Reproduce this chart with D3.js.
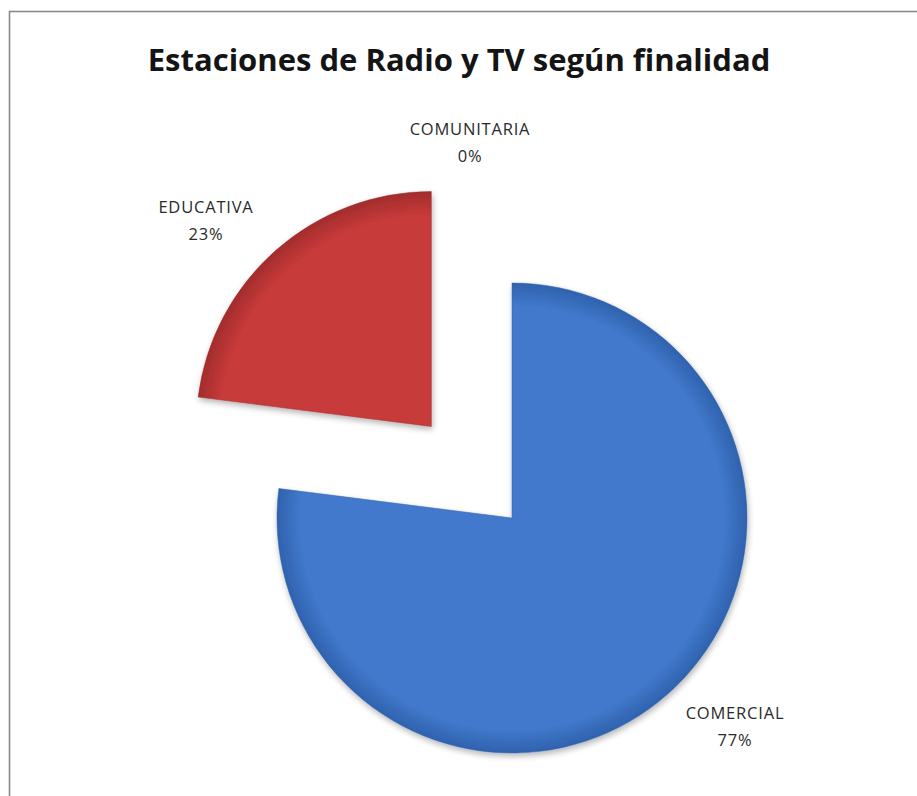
<!DOCTYPE html>
<html>
<head>
<meta charset="utf-8">
<script src="https://cdn.jsdelivr.net/npm/d3@7"></script>
<style>
  html, body { margin: 0; padding: 0; background: #fff; }
  svg { display: block; }
</style>
</head>
<body>
<svg id="chart" width="917" height="796"></svg>
<script>
// ---- data ----
const categories = ["COMERCIAL", "EDUCATIVA", "COMUNITARIA"];
const values = [77, 23, 0];
const percentLabels = ["77%", "23%", "0%"];
const title = "Estaciones de Radio y TV según finalidad";

// ---- style / layout ----
const W = 917, H = 796;
const cx = 512, cy = 518, R = 235;
const explode = [0, 122, 0];
const fills = [["#5a90dc", "#4279cc", "#2f62ae"], ["#d8484a", "#c83a3a", "#a22c2c"], ["#9bbb59", "#7f9f45", "#6a8838"]];
const labelPlace = [
  { x: 735, y: 719 },
  { x: 206, y: 213 },
  { x: 470, y: 135 }
];

const svg = d3.select("#chart");
const defs = svg.append("defs");

// border
svg.append("rect")
  .attr("x", 9.5).attr("y", 11.5)
  .attr("width", W + 20).attr("height", H + 20)
  .attr("fill", "#fff")
  .attr("stroke", "#8a8a8a").attr("stroke-width", 1.6);

// title
svg.append("text")
  .attr("x", 459).attr("y", 71)
  .attr("text-anchor", "middle")
  .attr("font-family", "'Open Sans', 'DejaVu Sans', sans-serif")
  .attr("font-weight", "bold")
  .attr("font-size", 31)
  .attr("fill", "#141414")
  .text(title);

// shadow filter
const f = defs.append("filter").attr("id", "shadow")
  .attr("x", "-10%").attr("y", "-10%").attr("width", "130%").attr("height", "130%");
f.append("feGaussianBlur").attr("in", "SourceAlpha").attr("stdDeviation", 3).attr("result", "blur");
f.append("feOffset").attr("in", "blur").attr("dx", 1).attr("dy", 3).attr("result", "off");
f.append("feComponentTransfer").attr("in", "off").attr("result", "soft")
  .append("feFuncA").attr("type", "linear").attr("slope", 0.3);
const merge = f.append("feMerge");
merge.append("feMergeNode").attr("in", "soft");
merge.append("feMergeNode").attr("in", "SourceGraphic");

fills.forEach((c, i) => {
  const g = defs.append("radialGradient").attr("id", "grad" + i)
    .attr("gradientUnits", "userSpaceOnUse")
    .attr("cx", 0).attr("cy", 0).attr("r", R);
  g.append("stop").attr("offset", "0%").attr("stop-color", c[1]);
  g.append("stop").attr("offset", "90%").attr("stop-color", c[1]);
  g.append("stop").attr("offset", "100%").attr("stop-color", c[2]);
});

const pie = d3.pie().sort(null).value(d => d)(values);
const arc = d3.arc().innerRadius(0).outerRadius(R);

const slices = svg.append("g");
pie.forEach((p, i) => {
  if (p.value <= 0) return;
  const mid = (p.startAngle + p.endAngle) / 2;
  const dx = Math.sin(mid) * explode[i];
  const dy = -Math.cos(mid) * explode[i];
  slices.append("path")
    .attr("transform", `translate(${cx + dx},${cy + dy})`)
    .attr("d", arc(p))
    .attr("fill", `url(#grad${i})`)
    .attr("stroke", fills[i][2])
    .attr("stroke-width", 1)
    .attr("stroke-opacity", 0.5)
    .attr("filter", "url(#shadow)");
});

// labels
const labels = svg.append("g")
  .attr("font-family", "'Open Sans', 'DejaVu Sans', sans-serif")
  .attr("font-size", 16.5)
  .attr("letter-spacing", 0.8)
  .attr("fill", "#2a2a2a")
  .attr("text-anchor", "middle");
categories.forEach((c, i) => {
  const t = labels.append("text").attr("x", labelPlace[i].x).attr("y", labelPlace[i].y);
  t.append("tspan").attr("x", labelPlace[i].x).attr("dy", 0).text(c);
  t.append("tspan").attr("x", labelPlace[i].x).attr("dy", 27).text(percentLabels[i]);
});
</script>
</body>
</html>
